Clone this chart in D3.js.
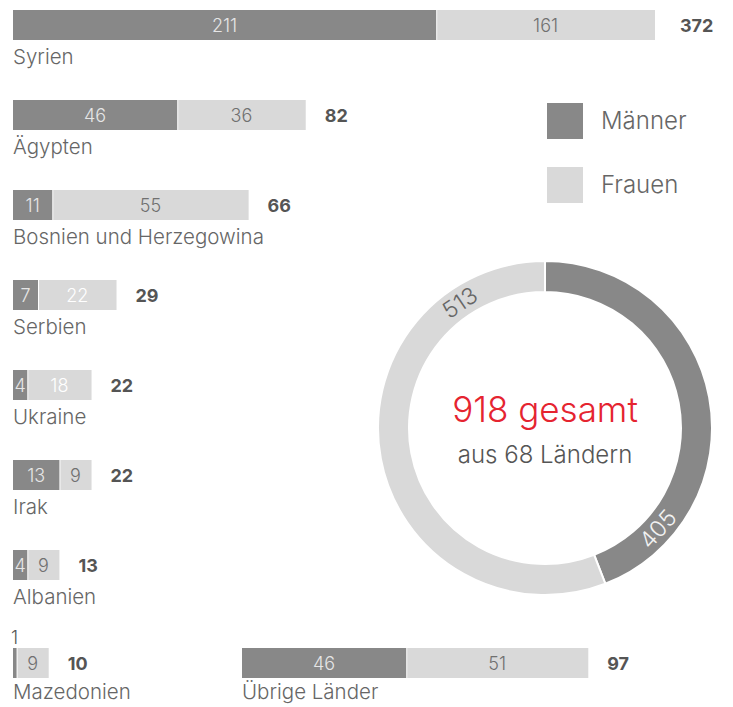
<!DOCTYPE html>
<html><head><meta charset="utf-8">
<script src="https://cdn.jsdelivr.net/npm/d3@7"></script>
<style>
body{margin:0;background:#fff}
svg{display:block;font-family:Inter,Roboto,"Liberation Sans",sans-serif}
</style>
</head><body>
<svg id="c" width="733" height="707"></svg>
<script>
// ---- data ----
const countries = ["Syrien","Ägypten","Bosnien und Herzegowina","Serbien","Ukraine","Irak","Albanien","Mazedonien","Übrige Länder"];
const maenner   = [211, 46, 11, 7, 4, 13, 4, 1, 46];
const frauen    = [161, 36, 55, 22, 18, 9, 9, 9, 51];
const totals    = [372, 82, 66, 29, 22, 22, 13, 10, 97];
const lightFemaleLabel = ["Serbien","Ukraine"];
const seriesNames = ["Männer","Frauen"];
const donutValues = [405, 513];
const centerTitle = "918 gesamt";
const centerSub = "aus 68 Ländern";

// ---- styles ----
const cMale = "#888888", cFemale = "#d9d9d9";
const svg = d3.select("#c");

// scales
const x = d3.scaleLinear().domain([0, 100]).range([0, 357]);
// first row (outlier) drawn on a compressed scale
const xBig = d3.scalePow().exponent(0.735).domain([0, 372]).range([0, 642]);
const rowY = d3.scaleLinear().domain([0, 6]).range([10, 550]);
const barH = 30;

const rows = countries.map((c, i) => ({
  name: c, m: maenner[i], f: frauen[i], t: totals[i],
  row: Math.min(i, 7),
  x0: i === 8 ? 242 : 13,
  sc: i === 0 ? xBig : x
}));

const g = svg.selectAll("g.row").data(rows).join("g")
  .attr("class", "row")
  .attr("transform", d => `translate(${d.x0},${d.row === 7 ? rowY(7) + 8 : rowY(d.row)})`);

g.append("rect").attr("x", 0).attr("y", 0)
  .attr("width", d => d.sc(d.m)).attr("height", barH).attr("fill", cMale);
g.append("rect").attr("x", d => d.sc(d.m) + 1).attr("y", 0)
  .attr("width", d => d.sc(d.m + d.f) - d.sc(d.m) - 1).attr("height", barH).attr("fill", cFemale);

// male labels
g.append("text")
  .attr("x", d => d.sc(d.m) < 10 ? -2 : d.sc(d.m) / 2)
  .attr("y", d => d.sc(d.m) < 10 ? -4 : 22)
  .attr("text-anchor", d => d.sc(d.m) < 10 ? "start" : "middle")
  .attr("font-size", 18).attr("font-weight", 300)
  .attr("fill", d => d.sc(d.m) < 10 ? "#555" : "#e6e6e6")
  .text(d => d.m);
// female labels
g.append("text")
  .attr("x", d => (d.sc(d.m) + d.sc(d.m + d.f)) / 2)
  .attr("y", 22)
  .attr("text-anchor", "middle")
  .attr("font-size", 18).attr("font-weight", 300)
  .attr("fill", d => lightFemaleLabel.includes(d.name) ? "#fff" : "#707070")
  .text(d => d.f);
// totals
g.append("text")
  .attr("x", d => d.sc(d.m + d.f) + (d.sc === xBig ? 25 : 19))
  .attr("y", 22)
  .attr("font-size", 18).attr("font-weight", 700)
  .attr("fill", "#555")
  .text(d => d.t);
// country names
g.append("text")
  .attr("x", 0).attr("y", d => d.row === 7 ? barH + 21 : barH + 24)
  .attr("font-size", 20.5).attr("font-weight", 300)
  .attr("fill", "#666")
  .text(d => d.name);

// ---- legend ----
const leg = svg.selectAll("g.leg").data(seriesNames).join("g")
  .attr("class", "leg")
  .attr("transform", (d, i) => `translate(547,${103 + i * 64})`);
leg.append("rect").attr("width", 36).attr("height", 36)
  .attr("fill", (d, i) => i === 0 ? cMale : cFemale);
leg.append("text").attr("x", 54).attr("y", 26)
  .attr("font-size", 24).attr("font-weight", 300).attr("fill", "#666")
  .text(d => d);

// ---- donut ----
const cx = 545, cy = 428, rO = 167, rI = 136;
const pie = d3.pie().sort(null).value(d => d)(donutValues);
const arc = d3.arc().innerRadius(rI).outerRadius(rO);
const dg = svg.append("g").attr("transform", `translate(${cx},${cy})`);
dg.selectAll("path").data(pie).join("path")
  .attr("d", arc)
  .attr("fill", (d, i) => i === 0 ? cMale : cFemale)
  .attr("stroke", "#fff").attr("stroke-width", 2);

dg.selectAll("text.dl").data(pie).join("text")
  .attr("class", "dl")
  .attr("transform", d => {
    const a = d.startAngle + (d.endAngle - d.startAngle) * 0.83;
    const r = (rI + rO) / 2;
    const deg = a * 180 / Math.PI;
    const rot = (deg > 90 && deg < 270) ? deg - 180 : deg;
    return `translate(${Math.sin(a) * r},${-Math.cos(a) * r}) rotate(${rot})`;
  })
  .attr("text-anchor", "middle").attr("dy", "0.35em")
  .attr("font-size", 23).attr("font-weight", 300)
  .attr("fill", (d, i) => i === 0 ? "#f2f2f2" : "#666")
  .text(d => d.data);

dg.append("text").attr("text-anchor", "middle").attr("y", -6)
  .attr("font-size", 35).attr("font-weight", 300).attr("fill", "#e52430")
  .text(centerTitle);
dg.append("text").attr("text-anchor", "middle").attr("y", 35)
  .attr("font-size", 24).attr("font-weight", 300).attr("fill", "#555")
  .text(centerSub);
</script>
</body></html>
